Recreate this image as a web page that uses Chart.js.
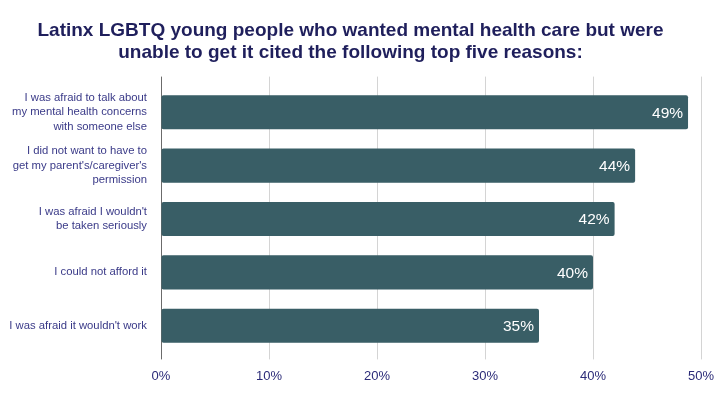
<!DOCTYPE html>
<html>
<head>
<meta charset="utf-8">
<script src="https://cdn.jsdelivr.net/npm/chart.js@4/dist/chart.umd.min.js"></script>
<style>
  html, body { margin: 0; padding: 0; background: #fff; }
</style>
</head>
<body>
<canvas id="bar-chart" width="720" height="400" style="width:720px;height:400px;display:block"></canvas>
<script>
// reasons, one entry per bar (lines as they wrap in the picture)
const reasons = [
  ["I was afraid to talk about", "my mental health concerns", "with someone else"],
  ["I did not want to have to", "get my parent's/caregiver's", "permission"],
  ["I was afraid I wouldn't", "be taken seriously"],
  "I could not afford it",
  "I was afraid it wouldn't work"
];
// percent of respondents
const shares = [48.8, 43.9, 42.0, 40.0, 35.0];
const xTicks = [0, 10, 20, 30, 40, 50];

const titleText = [
  "Latinx LGBTQ young people who wanted mental health care but were",
  "unable to get it cited the following top five reasons:"
];

// white % labels inside the end of each bar
const barLabels = {
  id: 'barLabels',
  afterDatasetsDraw(chart) {
    const ctx = chart.ctx;
    const meta = chart.getDatasetMeta(0);
    ctx.save();
    ctx.fillStyle = '#ffffff';
    ctx.font = '15.5px "Liberation Sans", Arial, sans-serif';
    ctx.textAlign = 'right';
    ctx.textBaseline = 'middle';
    meta.data.forEach((bar, i) => {
      ctx.fillText(Math.round(shares[i]) + '%', bar.x - 5, bar.y + 1);
    });
    ctx.restore();
  }
};

const gridColor = (c) => (c.tick && c.tick.value === 0) ? '#6b6b6b' : '#d4d4d4';
const noSidePad = (s) => { s.paddingLeft = 0; s.paddingRight = 0; };

new Chart(document.getElementById("bar-chart"), {
  type: 'bar',
  data: {
    labels: reasons,
    datasets: [{
      label: "Share",
      data: shares,
      backgroundColor: '#395e66',
      borderRadius: 2,
      borderSkipped: false,
      barPercentage: 0.64,
      categoryPercentage: 1.0
    }]
  },
  options: {
    indexAxis: 'y',
    responsive: false,
    animation: false,
    devicePixelRatio: 1,
    layout: { padding: { left: 0, right: 19, top: 0, bottom: 7 } },
    plugins: {
      legend: { display: false },
      tooltip: { enabled: false },
      title: {
        display: true,
        text: titleText,
        color: '#1f1f5c',
        font: { family: '"Liberation Sans", Arial, sans-serif', size: 19, weight: 'bold', lineHeight: 1.2 },
        padding: { top: 19, bottom: 12 }
      }
    },
    scales: {
      x: {
        min: 0,
        max: 50,
        afterBuildTicks: (s) => { s.ticks = xTicks.map(v => ({ value: v })); },
        afterFit: noSidePad,
        grid: { color: gridColor, lineWidth: 1, tickLength: 7, tickColor: gridColor },
        border: { display: false },
        ticks: {
          color: '#2b2b78',
          padding: 9,
          font: { family: '"Liberation Sans", Arial, sans-serif', size: 13 },
          callback: (v) => v + '%'
        }
      },
      x2: {
        position: 'top',
        min: 0,
        max: 50,
        afterBuildTicks: (s) => { s.ticks = xTicks.map(v => ({ value: v })); },
        afterFit: noSidePad,
        grid: { drawOnChartArea: false, tickLength: 9, tickColor: gridColor, color: gridColor },
        border: { display: false },
        ticks: { display: false }
      },
      y: {
        afterFit: (s) => { s.width = 161; },
        grid: { display: false, drawTicks: false, tickLength: 0 },
        border: { display: false },
        ticks: {
          color: '#3a3a88',
          padding: 14,
          font: { family: '"Liberation Sans", Arial, sans-serif', size: 11.3, lineHeight: 1.3 }
        }
      }
    }
  },
  plugins: [barLabels]
});
</script>
</body>
</html>
